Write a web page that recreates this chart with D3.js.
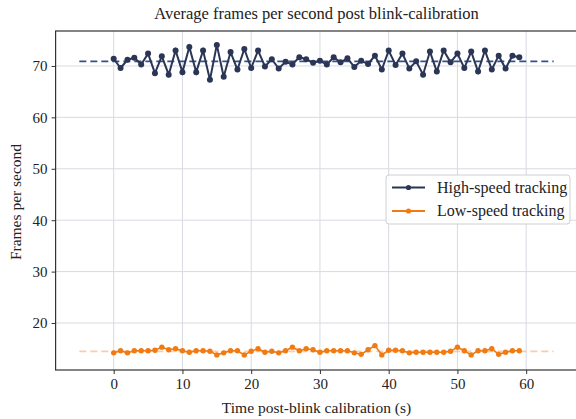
<!DOCTYPE html>
<html>
<head>
<meta charset="utf-8">
<script src="https://cdn.jsdelivr.net/npm/d3@7"></script>
<style>
  body { margin: 0; background: #fff; }
  svg text { font-family: "Liberation Serif", "Times New Roman", serif; fill: #222; }
</style>
</head>
<body>
<div id="chart"></div>
<script>
// data
const seconds = d3.range(0, 60);
const highSpeed = [71.4, 69.6, 71.2, 71.6, 70.3, 72.4, 68.6, 71.9, 68.3, 73.0,
                   68.8, 73.7, 68.8, 73.0, 67.3, 74.1, 67.9, 72.7, 69.3, 73.3,
                   69.6, 73.0, 69.9, 71.3, 69.5, 70.8, 70.3, 71.7, 71.3, 70.6,
                   71.0, 70.3, 71.7, 70.7, 71.5, 69.8, 71.0, 70.4, 72.0, 69.3,
                   73.0, 70.2, 72.4, 69.5, 70.9, 68.3, 72.8, 68.9, 73.0, 70.7,
                   72.4, 69.6, 72.8, 68.9, 73.0, 69.3, 72.0, 69.5, 72.0, 71.7];
const lowSpeed = [14.2, 14.6, 14.2, 14.6, 14.6, 14.6, 14.7, 15.3, 14.8, 15.0,
                  14.6, 14.3, 14.6, 14.6, 14.5, 13.8, 14.2, 14.6, 14.6, 13.8,
                  14.5, 15.0, 14.3, 14.5, 14.2, 14.6, 15.3, 14.6, 15.0, 14.8,
                  14.3, 14.6, 14.6, 14.6, 14.6, 14.2, 13.9, 14.8, 15.6, 13.8,
                  14.7, 14.7, 14.6, 14.2, 14.3, 14.3, 14.3, 14.3, 14.3, 14.5,
                  15.3, 14.6, 13.8, 14.6, 14.6, 15.0, 13.9, 14.3, 14.6, 14.6];
const highMean = 70.9;
const lowMean = 14.5;
const meanSpan = [-5, 64];
const xTicks = [0, 10, 20, 30, 40, 50, 60];
const yTicks = [20, 30, 40, 50, 60, 70];

const w = 576, h = 419;
const highColor = "#2b3556", lowColor = "#f07b12";

const svg = d3.select("#chart").append("svg").attr("width", w).attr("height", h);

const x = d3.scaleLinear().domain([-8.45, 67.45]).range([55.6, 577.4]);
const y = d3.scaleLinear().domain([10.86, 76.8]).range([370, 31]);

// grid
svg.append("g").selectAll("line").data(xTicks).join("line")
  .attr("x1", d => x(d)).attr("x2", d => x(d)).attr("y1", y.range()[1]).attr("y2", y.range()[0])
  .attr("stroke", "#d8dae2").attr("stroke-width", 1);
svg.append("g").selectAll("line").data(yTicks).join("line")
  .attr("x1", x.range()[0]).attr("x2", x.range()[1]).attr("y1", d => y(d)).attr("y2", d => y(d))
  .attr("stroke", "#d8dae2").attr("stroke-width", 1);

// mean lines
const meanLine = (v, color, op) => svg.append("line")
  .attr("x1", x(meanSpan[0])).attr("x2", x(meanSpan[1]))
  .attr("y1", y(v)).attr("y2", y(v))
  .attr("stroke", color).attr("stroke-width", 1.8).attr("stroke-dasharray", "7,4")
  .attr("opacity", op);
meanLine(highMean, "#34508c", 1);
meanLine(lowMean, "#f6a36a", 0.55);

// series
const line = d3.line().x((d, i) => x(seconds[i])).y(d => y(d));
const drawSeries = (vals, color, r, lw) => {
  svg.append("path").datum(vals).attr("d", line)
    .attr("fill", "none").attr("stroke", color).attr("stroke-width", lw);
  svg.append("g").selectAll("circle").data(vals).join("circle")
    .attr("cx", (d, i) => x(seconds[i])).attr("cy", d => y(d)).attr("r", r)
    .attr("fill", color);
};
drawSeries(highSpeed, highColor, 3, 2);
drawSeries(lowSpeed, lowColor, 2.7, 1.6);

// axes
const xAxis = svg.append("g").attr("transform", `translate(0,${y.range()[0]})`)
  .call(d3.axisBottom(x).tickValues(xTicks).tickSize(4).tickPadding(4));
const yAxis = svg.append("g").attr("transform", `translate(${x.range()[0]},0)`)
  .call(d3.axisLeft(y).tickValues(yTicks).tickSize(4).tickPadding(4));
[xAxis, yAxis].forEach(a => {
  a.select(".domain").remove();
  a.selectAll(".tick line").attr("stroke", "#333");
  a.selectAll(".tick text").style("font-size", "15px").attr("fill", "#222")
    .style("font-family", "'Liberation Serif', serif");
});

// frame
svg.append("rect")
  .attr("x", x.range()[0]).attr("y", y.range()[1])
  .attr("width", x.range()[1] - x.range()[0]).attr("height", y.range()[0] - y.range()[1])
  .attr("fill", "none").attr("stroke", "#333").attr("stroke-width", 1.2);

// title and labels
svg.append("text").attr("x", 316.5).attr("y", 19).attr("text-anchor", "middle")
  .style("font-size", "16.5px").text("Average frames per second post blink-calibration");
svg.append("text").attr("x", 316.5).attr("y", 413).attr("text-anchor", "middle")
  .style("font-size", "15.5px").text("Time post-blink calibration (s)");
svg.append("text").attr("transform", "translate(21,202) rotate(-90)").attr("text-anchor", "middle")
  .style("font-size", "15.5px").text("Frames per second");

// legend
const legend = svg.append("g").attr("transform", "translate(386,175)");
legend.append("rect").attr("width", 184).attr("height", 49).attr("rx", 3)
  .attr("fill", "rgba(255,255,255,0.85)").attr("stroke", "#d0d0d0");
const items = [["High-speed tracking", highColor], ["Low-speed tracking", lowColor]];
items.forEach(([label, color], i) => {
  const g = legend.append("g").attr("transform", `translate(0,${12.5 + i * 23.5})`);
  g.append("line").attr("x1", 6).attr("x2", 39).attr("stroke", color).attr("stroke-width", 1.8);
  g.append("circle").attr("cx", 22.5).attr("r", 2.6).attr("fill", color);
  g.append("text").attr("x", 51).attr("y", 5).style("font-size", "16px").text(label);
});
</script>
</body>
</html>
